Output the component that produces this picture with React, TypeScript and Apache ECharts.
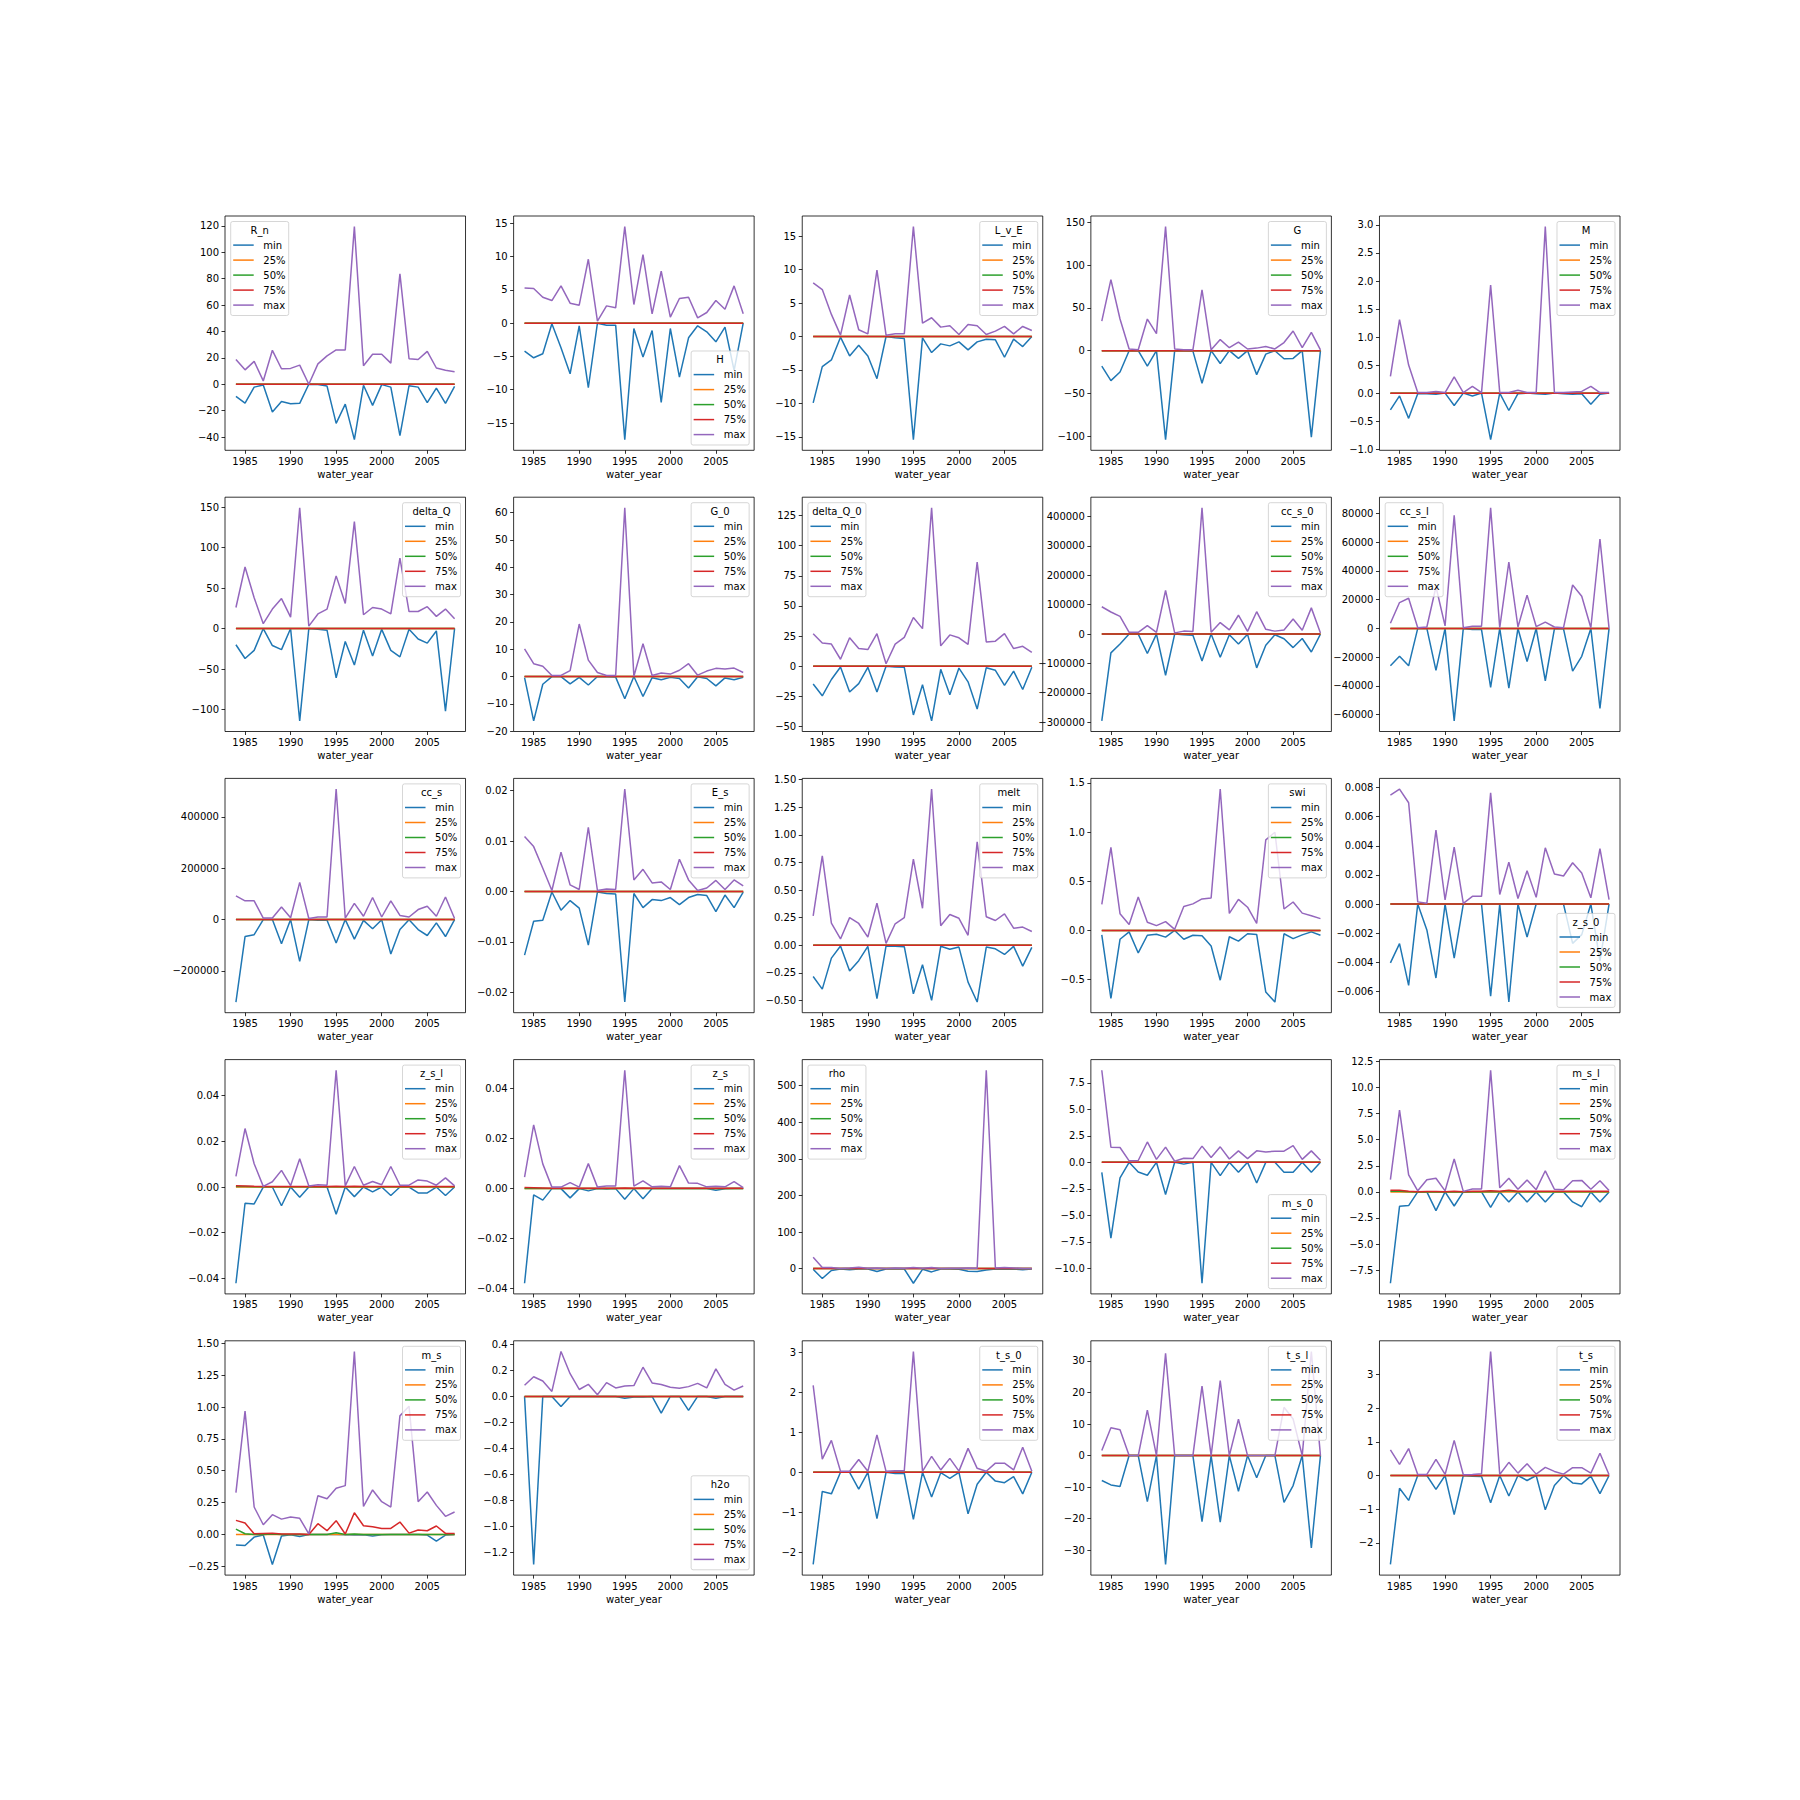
import React, { useEffect, useRef } from "react";
import * as echarts from "echarts";

const YEARS = [1984, 1985, 1986, 1987, 1988, 1989, 1990, 1991, 1992, 1993, 1994, 1995, 1996, 1997, 1998, 1999, 2000, 2001, 2002, 2003, 2004, 2005, 2006, 2007, 2008];
const X_TICKS = [1985, 1990, 1995, 2000, 2005];
const SERIES_NAMES = ["min", "25%", "50%", "75%", "max"];
const COLORS = ["#1f77b4", "#ff7f0e", "#2ca02c", "#d62728", "#9467bd"];
const ZERO = [0, 0, 0, 0, 0, 0, 0, 0, 0, 0, 0, 0, 0, 0, 0, 0, 0, 0, 0, 0, 0, 0, 0, 0, 0];

// ---- values per variable ----
const RN_MAX = [18.7, 10.9, 17.3, 2.5, 25.7, 11.7, 12, 14.5, 0, 15.4, 21.5, 26, 26, 119.4, 14, 22.7, 22.7, 16, 83.6, 19.3, 18.7, 24.9, 12.3, 10.6, 9.5];
const RN_MIN = [-9.2, -14.3, -2.2, -0.6, -21, -13.1, -14.8, -14.5, 0, -0.3, -1.4, -29.7, -15.1, -42, -0.8, -16, -0.3, -2.2, -38.9, -1.1, -2.2, -14, -3, -14.5, -1.7];
const RN_TICKS = ["\u221240", "\u221220", "0", "20", "40", "60", "80", "100", "120"];

const H_MAX = [5.3, 5.2, 3.9, 3.4, 5.6, 3.0, 2.7, 9.6, 0.3, 2.6, 2.3, 14.5, 2.8, 10.3, 1.4, 7.8, 0.9, 3.7, 3.9, 0.8, 1.6, 3.4, 2.1, 5.6, 1.4];
const H_MIN = [-4.2, -5.2, -4.6, -0.1, -3.7, -7.6, -0.4, -9.7, 0, -0.3, -0.3, -17.5, -0.8, -5.1, -1.1, -11.9, -0.8, -8.1, -2.2, -0.4, -1.3, -2.8, -0.6, -7.1, 0];
const H_TICKS = ["\u221215", "\u221210", "\u22125", "0", "5", "10", "15"];

const LVE_MAX = [8.0, 7.0, 3.3, 0.2, 6.2, 1.0, 0.4, 9.9, 0.2, 0.4, 0.4, 16.4, 2.0, 2.8, 1.4, 1.6, 0.3, 1.8, 1.6, 0.3, 0.8, 1.5, 0.4, 1.5, 0.9];
const LVE_MIN = [-9.9, -4.5, -3.5, -0.1, -2.9, -1.3, -2.9, -6.3, 0, -0.2, -0.3, -15.4, -0.2, -2.4, -1.1, -1.4, -0.8, -2.0, -0.8, -0.4, -0.5, -3.1, -0.4, -1.5, 0];
const LVE_TICKS = ["\u221215", "\u221210", "\u22125", "0", "5", "10", "15"];

const G_MAX = [34.5, 83, 37, 2, 1, 37, 20, 145, 2, 1, 1, 71, 1, 13, 3.5, 10, 2, 3, 5, 2, 9.5, 23, 3.5, 21.5, 1];
const G_MIN = [-18, -35, -25, 0, 0, -18, 0, -104, 0, 0, -0.5, -38, 0, -15, 0, -9, 0, -28, -4, 0, -9.5, -9, 0, -101, 0];
const G_TICKS = ["\u2212100", "\u221250", "0", "50", "100", "150"];

const M_MAX = [0.3, 1.31, 0.5, 0.01, 0.01, 0.03, 0.01, 0.29, 0.01, 0.12, 0.01, 1.93, 0.01, 0.01, 0.05, 0.01, 0.01, 2.97, 0.01, 0.01, 0.02, 0.03, 0.12, 0.01, 0.01];
const M_MIN = [-0.3, -0.05, -0.45, -0.01, -0.01, -0.02, 0, -0.22, 0, -0.05, 0, -0.83, 0, -0.31, -0.01, 0, -0.01, -0.02, 0, -0.01, -0.02, -0.01, -0.2, -0.02, 0];
const M_TICKS = ["\u22121.0", "\u22120.5", "0.0", "0.5", "1.0", "1.5", "2.0", "2.5", "3.0"];

const DQ_MAX = [26, 76, 38, 6, 24, 37, 14, 149, 3, 18, 24, 65, 31, 132, 17, 26, 24, 18, 87, 21, 21, 27, 15, 24, 12];
const DQ_MIN = [-20, -37, -27, 0, -21, -26, 0, -114, 0, -1, -2, -61, -16, -45, -2, -34, -1, -27, -35, -1, -13, -18, -3, -102, 0];
const DQ_TICKS = ["\u2212100", "\u221250", "0", "50", "100", "150"];

const G0_MAX = [10.1, 4.7, 3.8, 0.4, 0.4, 2.2, 19.2, 6, 1.5, 0.4, 0.4, 61.7, 0.1, 12, 0.4, 1.3, 0.9, 2.3, 4.7, 0.5, 2.0, 3.0, 2.8, 3.1, 1.5];
const G0_MIN = [-0.4, -16.2, -2.8, 0, 0, -2.7, -0.3, -3.1, 0, -0.1, -0.2, -8.1, 0, -7.3, -0.4, -1.2, -0.3, -0.7, -4.2, -0.1, -0.7, -3.4, -0.5, -1.2, -0.3];
const G0_TICKS = ["\u221220", "\u221210", "0", "10", "20", "30", "40", "50", "60"];

const DQ0_MAX = [27, 19.3, 18.4, 5.8, 23.6, 14.7, 13.8, 27, 2.1, 18.4, 23.9, 40.4, 31.2, 131.4, 16.9, 26, 23.6, 18.1, 86.4, 20.2, 20.8, 27, 14.7, 16.5, 11.6];
const DQ0_MIN = [-14.7, -24.5, -11, -0.6, -21.4, -14.4, -0.9, -21.4, 0, -0.6, -0.9, -40.4, -15.3, -45.3, -2.5, -23.6, -1.5, -12.9, -35.5, -1.2, -3.4, -15.9, -4, -19.3, -0.9];
const DQ0_TICKS = ["\u221250", "\u221225", "0", "25", "50", "75", "100", "125"];

const CCS0_MAX = [92800, 75000, 60000, 6000, 6000, 29000, 6000, 148000, 4000, 10000, 9000, 429000, 6000, 39000, 14000, 64000, 9000, 76000, 16000, 10000, 14000, 51000, 13000, 89000, 4000];
const CCS0_MIN = [-295000, -64000, -34000, 0, 0, -66000, 0, -140000, 0, -2500, -4000, -91500, 0, -79000, -2500, -34000, -1000, -115000, -38000, -2500, -16000, -46000, -15000, -61000, 0];
const CCS0_TICKS = ["\u2212300000", "\u2212200000", "\u2212100000", "0", "100000", "200000", "300000", "400000"];

const CCSL_MAX = [3600, 18000, 21000, 500, 1000, 29000, 1800, 78700, 500, 1500, 1500, 83900, 500, 46200, 1000, 23200, 1300, 4400, 1000, 500, 30200, 22400, 500, 62200, 0];
const CCSL_MIN = [-26000, -19400, -26000, 0, 0, -29200, 0, -64300, 0, -800, -800, -41000, 0, -41500, 0, -23000, 0, -36400, -300, -300, -29700, -19400, 0, -55700, 0];
const CCSL_TICKS = ["\u221260000", "\u221240000", "\u221220000", "0", "20000", "40000", "60000", "80000"];

const CCS_MAX = [92000, 73000, 73000, 6000, 6000, 49000, 7000, 145000, 4000, 10000, 10000, 508000, 6000, 63000, 13000, 86000, 10000, 73000, 16000, 10000, 39000, 52000, 13000, 88000, 4000];
const CCS_MIN = [-321000, -66000, -59000, 0, 0, -94000, 0, -163000, 0, -3000, -3000, -91000, 0, -76000, -3000, -36000, -1000, -134000, -39000, -1000, -39000, -62000, -13000, -66000, 0];
const CCS_TICKS = ["\u2212200000", "0", "200000", "400000"];

const ES_MAX = [0.0109, 0.0089, 0.0046, 0.0002, 0.0078, 0.0013, 0.0004, 0.0127, 0.0002, 0.0005, 0.0004, 0.0203, 0.0023, 0.0044, 0.0017, 0.0019, 0.0004, 0.0064, 0.0023, 0.0002, 0.0007, 0.0022, 0.0004, 0.0023, 0.0011];
const ES_MIN = [-0.0126, -0.0059, -0.0057, -0.0001, -0.0037, -0.0018, -0.0033, -0.0106, -0.0001, -0.0004, -0.0005, -0.0219, -0.0004, -0.0032, -0.0016, -0.0018, -0.0012, -0.0026, -0.0012, -0.0006, -0.0008, -0.004, -0.0007, -0.0032, -0.0001];
const ES_TICKS = ["\u22120.02", "\u22120.01", "0.00", "0.01", "0.02"];

const MELT_MAX = [0.265, 0.81, 0.2, 0.057, 0.25, 0.197, 0.074, 0.38, 0.017, 0.194, 0.25, 0.78, 0.335, 1.415, 0.177, 0.278, 0.244, 0.09, 0.937, 0.258, 0.224, 0.284, 0.154, 0.164, 0.124];
const MELT_MIN = [-0.284, -0.398, -0.117, -0.007, -0.234, -0.14, -0.01, -0.485, -0.007, -0.01, -0.013, -0.44, -0.177, -0.5, -0.01, -0.037, -0.017, -0.335, -0.515, -0.017, -0.033, -0.084, -0.01, -0.19, -0.02];
const MELT_TICKS = ["\u22120.50", "\u22120.25", "0.00", "0.25", "0.50", "0.75", "1.00", "1.25", "1.50"];

const SWI_MAX = [0.266, 0.844, 0.17, 0.06, 0.34, 0.083, 0.049, 0.09, 0.011, 0.244, 0.27, 0.32, 0.33, 1.437, 0.173, 0.315, 0.236, 0.071, 0.92, 0.998, 0.218, 0.289, 0.176, 0.15, 0.12];
const SWI_MIN = [-0.045, -0.69, -0.09, -0.015, -0.229, -0.049, -0.038, -0.068, 0, -0.09, -0.049, -0.053, -0.158, -0.506, -0.064, -0.109, -0.034, -0.041, -0.626, -0.728, -0.034, -0.083, -0.045, -0.015, -0.049];
const SWI_TICKS = ["\u22120.5", "0.0", "0.5", "1.0", "1.5"];

const ZS0_MAX = [0.00749, 0.0079, 0.00696, 0.00015, 0.00005, 0.00508, 0.00028, 0.00391, 0.00005, 0.00053, 0.00053, 0.00764, 0.00066, 0.00287, 0.00038, 0.00229, 0.00046, 0.00386, 0.00206, 0.00193, 0.00284, 0.00213, 0.00043, 0.00381, 0.0003];
const ZS0_MIN = [-0.00404, -0.00272, -0.00559, 0, -0.00178, -0.00508, 0, -0.00371, 0, 0, 0, -0.00632, 0, -0.00673, 0, -0.00226, 0, 0, 0, 0, -0.0027, -0.0021, 0, -0.0039, 0];
const ZS0_TICKS = ["\u22120.006", "\u22120.004", "\u22120.002", "0.000", "0.002", "0.004", "0.006", "0.008"];

const ZSL_MAX = [0.0047, 0.0256, 0.0102, 0.0003, 0.0023, 0.0073, 0.0006, 0.0124, 0.0005, 0.001, 0.0008, 0.0511, 0.0005, 0.009, 0.0008, 0.0024, 0.001, 0.009, 0.0008, 0.0008, 0.0031, 0.0026, 0.0008, 0.004, 0.0005];
const ZSL_Q75 = [0.0006, 0.0005, 0.0003, 0.0002, 0.0002, 0.0002, 0.0002, 0.0002, 0.0002, 0.0002, 0.0002, 0.0003, 0.0002, 0.0003, 0.0002, 0.0002, 0.0002, 0.0002, 0.0002, 0.0002, 0.0002, 0.0002, 0.0002, 0.0002, 0.0002];
const ZSL_Q50 = [0.0002, 0.0002, 0.0001, 0.0001, 0.0001, 0.0001, 0.0001, 0.0001, 0.0001, 0.0001, 0.0001, 0.0001, 0.0001, 0.0001, 0.0001, 0.0001, 0.0001, 0.0001, 0.0001, 0.0001, 0.0001, 0.0001, 0.0001, 0.0001, 0.0001];
const ZSL_MIN = [-0.0421, -0.0071, -0.0074, 0, 0, -0.0082, 0, -0.0045, 0, 0, 0, -0.0119, 0, -0.0042, 0, -0.0021, 0, -0.0037, 0, 0, -0.0026, -0.0026, 0, -0.0037, 0];
const ZSL_TICKS = ["\u22120.04", "\u22120.02", "0.00", "0.02", "0.04"];

const ZS_MAX = [0.0046, 0.0255, 0.0099, 0.0006, 0.0006, 0.0024, 0.0006, 0.01, 0.0006, 0.001, 0.001, 0.0474, 0.001, 0.0031, 0.0007, 0.0009, 0.0007, 0.0092, 0.0022, 0.0021, 0.0007, 0.0009, 0.0007, 0.0028, 0.0004];
const ZS_Q75 = [0.0004, 0.0003, 0.0002, 0.0001, 0.0001, 0.0001, 0.0001, 0.0001, 0.0001, 0.0001, 0.0001, 0.0002, 0.0001, 0.0002, 0.0001, 0.0001, 0.0001, 0.0001, 0.0001, 0.0001, 0.0001, 0.0001, 0.0001, 0.0001, 0.0001];
const ZS_MIN = [-0.0379, -0.0025, -0.0046, 0, 0, -0.0037, 0, -0.0009, 0, -0.0002, 0, -0.0043, 0, -0.0041, 0, 0, 0, 0, 0, 0, 0, -0.0007, -0.0001, 0, 0];
const ZS_TICKS = ["\u22120.04", "\u22120.02", "0.00", "0.02", "0.04"];

const RHO_MAX = [31, 3, 3, 0.5, 2, 4, 1, 2, 0.5, 2, 1, 3, 1, 3, 0.5, 1, 1, 2, 1, 542, 2, 3, 2, 0.5, 0.5];
const RHO_MIN = [-2, -27, -5, -1, -3, -1, -1, -8, -1, -1, -1, -40, -2, -9, -1, -1, -2, -7, -8, -4, -1, -2, -1, -3, -1];
const RHO_TICKS = ["0", "100", "200", "300", "400", "500"];

const MS0_MAX = [8.68, 1.43, 1.4, 0.14, 0.17, 1.92, 0.28, 1.43, 0.1, 0.38, 0.35, 1.53, 0.45, 1.46, 0.31, 1.08, 0.35, 1.08, 0.98, 1.05, 1.05, 1.57, 0.28, 1.08, 0.2];
const MS0_MIN = [-0.94, -7.15, -1.46, 0, -0.91, -1.22, 0, -3.03, 0, -0.17, 0, -11.4, 0, -1.26, 0, -0.94, 0, -1.95, 0, 0, -0.94, -0.94, 0, -0.94, 0];
const MS0_TICKS = ["\u221210.0", "\u22127.5", "\u22125.0", "\u22122.5", "0.0", "2.5", "5.0", "7.5"];

const MSL_MAX = [1.17, 7.83, 1.63, 0.1, 1.17, 1.31, 0.1, 3.15, 0.05, 0.28, 0.28, 11.65, 0.39, 1.31, 0.25, 1.13, 0.21, 2.02, 0.25, 0.21, 1.06, 1.1, 0.25, 1.06, 0.14];
const MSL_Q75 = [0.15, 0.15, 0.05, 0.02, 0.03, 0.03, 0.02, 0.05, 0.02, 0.05, 0.05, 0.12, 0.05, 0.15, 0.05, 0.05, 0.05, 0.05, 0.05, 0.05, 0.05, 0.05, 0.05, 0.05, 0.05];
const MSL_Q50 = [0.05, 0.05, 0.01, 0, 0, 0, 0, 0.01, 0, 0.01, 0.01, 0.03, 0.01, 0.1, 0.01, 0.01, 0.01, 0.01, 0.01, 0.01, 0.01, 0.01, 0.01, 0.01, 0.01];
const MSL_MIN = [-8.75, -1.38, -1.31, 0, 0, -1.8, 0, -1.35, 0, 0, 0, -1.49, 0, -0.96, 0, -0.96, 0, -0.96, 0, 0, -0.96, -1.42, 0, -0.96, 0];
const MSL_TICKS = ["\u22127.5", "\u22125.0", "\u22122.5", "0.0", "2.5", "5.0", "7.5", "10.0", "12.5"];

const MS_MAX = [0.328, 0.968, 0.215, 0.076, 0.155, 0.12, 0.136, 0.126, 0.005, 0.304, 0.28, 0.362, 0.383, 1.437, 0.22, 0.349, 0.257, 0.215, 0.931, 1.007, 0.257, 0.333, 0.228, 0.142, 0.176];
const MS_Q75 = [0.11, 0.089, 0.005, 0.008, 0.01, 0.003, 0.003, 0.003, 0, 0.084, 0.029, 0.108, 0.003, 0.17, 0.068, 0.06, 0.047, 0.047, 0.097, 0.01, 0.034, 0.029, 0.066, 0.008, 0.008];
const MS_Q50 = [0.042, 0.005, 0, 0, 0.003, 0, 0, 0, 0, 0, 0, 0.013, 0, 0.003, 0, 0, 0, 0, 0, 0, 0, 0, 0, 0, 0];
const MS_MIN = [-0.084, -0.087, -0.021, -0.005, -0.236, -0.013, -0.003, -0.016, 0, 0, 0, 0, -0.003, -0.005, -0.003, -0.013, -0.003, 0, 0, 0, 0, -0.005, -0.052, -0.005, 0];
const MS_TICKS = ["\u22120.25", "0.00", "0.25", "0.50", "0.75", "1.00", "1.25", "1.50"];

const H2O_MAX = [0.086, 0.151, 0.118, 0.038, 0.345, 0.174, 0.053, 0.093, 0.013, 0.106, 0.065, 0.08, 0.083, 0.224, 0.103, 0.091, 0.07, 0.063, 0.075, 0.1, 0.065, 0.211, 0.093, 0.048, 0.08];
const H2O_MIN = [0, -1.29, 0, 0, -0.078, 0, 0, 0, 0, 0, 0, -0.015, -0.005, -0.005, 0, -0.128, 0, 0, -0.108, 0, 0, -0.015, 0, 0, 0];
const H2O_TICKS = ["\u22121.2", "\u22121.0", "\u22120.8", "\u22120.6", "\u22120.4", "\u22120.2", "0.0", "0.2", "0.4"];

const TS0_MAX = [2.18, 0.33, 0.8, 0.025, 0.025, 0.32, 0.025, 0.94, 0.025, 0.04, 0.04, 3.03, 0.025, 0.4, 0.06, 0.35, 0.03, 0.6, 0.1, 0.025, 0.23, 0.23, 0.06, 0.63, 0.025];
const TS0_MIN = [-2.31, -0.48, -0.54, 0, 0, -0.42, 0, -1.16, 0, -0.03, -0.03, -1.18, 0, -0.62, -0.01, -0.15, 0, -1.04, -0.3, 0, -0.22, -0.26, -0.11, -0.54, 0];
const TS0_TICKS = ["\u22122", "\u22121", "0", "1", "2", "3"];

const TSL_MAX = [1.6, 8.8, 8.2, 0, 0, 14.4, 0, 32.4, 0, 0, 0, 22, 0, 23.8, 0, 11.5, 0, 0, 0, 0, 15.3, 11.6, 0, 33, 0];
const TSL_MIN = [-7.9, -9.3, -9.8, 0, 0, -14.6, 0, -34.5, 0, 0, 0, -20.9, 0, -21.1, 0, -11.3, 0, -7, 0, 0, -14.8, -9.5, 0, -29.3, 0];
const TSL_TICKS = ["\u221230", "\u221220", "\u221210", "0", "10", "20", "30"];

const TS_MAX = [0.76, 0.33, 0.8, 0.03, 0.03, 0.48, 0.03, 1.04, 0.02, 0.03, 0.05, 3.68, 0.03, 0.39, 0.07, 0.35, 0.04, 0.24, 0.12, 0.04, 0.23, 0.23, 0.07, 0.66, 0.02];
const TS_MIN = [-2.64, -0.38, -0.74, 0, 0, -0.41, 0, -1.16, 0, -0.02, -0.03, -0.81, 0, -0.61, 0, -0.15, 0, -1.02, -0.3, 0, -0.22, -0.25, -0.02, -0.54, 0];
const TS_TICKS = ["\u22122", "\u22121", "0", "1", "2", "3"];

type Panel = { name: string; lines: number[][]; ticks: string[]; legend: "ul" | "ur" | "lr" };

const PANELS: Panel[] = [
  { name: "R_n", lines: [RN_MIN, ZERO, ZERO, ZERO, RN_MAX], ticks: RN_TICKS, legend: "ul" },
  { name: "H", lines: [H_MIN, ZERO, ZERO, ZERO, H_MAX], ticks: H_TICKS, legend: "lr" },
  { name: "L_v_E", lines: [LVE_MIN, ZERO, ZERO, ZERO, LVE_MAX], ticks: LVE_TICKS, legend: "ur" },
  { name: "G", lines: [G_MIN, ZERO, ZERO, ZERO, G_MAX], ticks: G_TICKS, legend: "ur" },
  { name: "M", lines: [M_MIN, ZERO, ZERO, ZERO, M_MAX], ticks: M_TICKS, legend: "ur" },
  { name: "delta_Q", lines: [DQ_MIN, ZERO, ZERO, ZERO, DQ_MAX], ticks: DQ_TICKS, legend: "ur" },
  { name: "G_0", lines: [G0_MIN, ZERO, ZERO, ZERO, G0_MAX], ticks: G0_TICKS, legend: "ur" },
  { name: "delta_Q_0", lines: [DQ0_MIN, ZERO, ZERO, ZERO, DQ0_MAX], ticks: DQ0_TICKS, legend: "ul" },
  { name: "cc_s_0", lines: [CCS0_MIN, ZERO, ZERO, ZERO, CCS0_MAX], ticks: CCS0_TICKS, legend: "ur" },
  { name: "cc_s_l", lines: [CCSL_MIN, ZERO, ZERO, ZERO, CCSL_MAX], ticks: CCSL_TICKS, legend: "ul" },
  { name: "cc_s", lines: [CCS_MIN, ZERO, ZERO, ZERO, CCS_MAX], ticks: CCS_TICKS, legend: "ur" },
  { name: "E_s", lines: [ES_MIN, ZERO, ZERO, ZERO, ES_MAX], ticks: ES_TICKS, legend: "ur" },
  { name: "melt", lines: [MELT_MIN, ZERO, ZERO, ZERO, MELT_MAX], ticks: MELT_TICKS, legend: "ur" },
  { name: "swi", lines: [SWI_MIN, ZERO, ZERO, ZERO, SWI_MAX], ticks: SWI_TICKS, legend: "ur" },
  { name: "z_s_0", lines: [ZS0_MIN, ZERO, ZERO, ZERO, ZS0_MAX], ticks: ZS0_TICKS, legend: "lr" },
  { name: "z_s_l", lines: [ZSL_MIN, ZERO, ZSL_Q50, ZSL_Q75, ZSL_MAX], ticks: ZSL_TICKS, legend: "ur" },
  { name: "z_s", lines: [ZS_MIN, ZERO, ZERO, ZS_Q75, ZS_MAX], ticks: ZS_TICKS, legend: "ur" },
  { name: "rho", lines: [RHO_MIN, ZERO, ZERO, ZERO, RHO_MAX], ticks: RHO_TICKS, legend: "ul" },
  { name: "m_s_0", lines: [MS0_MIN, ZERO, ZERO, ZERO, MS0_MAX], ticks: MS0_TICKS, legend: "lr" },
  { name: "m_s_l", lines: [MSL_MIN, ZERO, MSL_Q50, MSL_Q75, MSL_MAX], ticks: MSL_TICKS, legend: "ur" },
  { name: "m_s", lines: [MS_MIN, ZERO, MS_Q50, MS_Q75, MS_MAX], ticks: MS_TICKS, legend: "ur" },
  { name: "h2o", lines: [H2O_MIN, ZERO, ZERO, ZERO, H2O_MAX], ticks: H2O_TICKS, legend: "lr" },
  { name: "t_s_0", lines: [TS0_MIN, ZERO, ZERO, ZERO, TS0_MAX], ticks: TS0_TICKS, legend: "ur" },
  { name: "t_s_l", lines: [TSL_MIN, ZERO, ZERO, ZERO, TSL_MAX], ticks: TSL_TICKS, legend: "ur" },
  { name: "t_s", lines: [TS_MIN, ZERO, ZERO, ZERO, TS_MAX], ticks: TS_TICKS, legend: "ur" },
];

// ---- layout ----
const AX_LEFT0 = 225;
const AX_TOP0 = 216;
const AX_W = 240.52;
const AX_H = 234.3;
const COL_PITCH = 288.62;
const ROW_PITCH = 281.2;
const FONT = "DejaVu Sans";
const LEG_W = 58;
const LEG_H = 94;

const parseTick = (s: string) => Number(s.replace("\u2212", "-"));

function buildOption() {
  const grids: any[] = [];
  const xAxes: any[] = [];
  const yAxes: any[] = [];
  const series: any[] = [];
  const graphics: any[] = [];
  const xmin = YEARS[0] - 0.05 * (YEARS[YEARS.length - 1] - YEARS[0]);
  const xmax = YEARS[YEARS.length - 1] + 0.05 * (YEARS[YEARS.length - 1] - YEARS[0]);

  PANELS.forEach((p, k) => {
    const col = k % 5;
    const row = Math.floor(k / 5);
    const left = AX_LEFT0 + col * COL_PITCH;
    const top = AX_TOP0 + row * ROW_PITCH;
    grids.push({
      left, top, width: AX_W, height: AX_H,
      show: true, borderColor: "#000", borderWidth: 0.8, backgroundColor: "transparent",
    });
    let lo = Infinity, hi = -Infinity;
    p.lines.forEach((arr) => arr.forEach((v) => { lo = Math.min(lo, v); hi = Math.max(hi, v); }));
    const pad = 0.05 * (hi - lo);
    const tickVals = p.ticks.map(parseTick);
    xAxes.push({
      type: "value", gridIndex: k, min: xmin, max: xmax, position: "bottom",
      splitLine: { show: false }, axisLine: { show: false, onZero: false },
      axisTick: { show: true, customValues: X_TICKS, length: 3.5, inside: false, lineStyle: { color: "#000", width: 0.8 } },
      axisLabel: { customValues: X_TICKS, formatter: (v: number) => String(Math.round(v)), margin: 6, fontSize: 10, fontFamily: FONT, color: "#000" },
      name: "water_year", nameLocation: "middle", nameGap: 19,
      nameTextStyle: { fontSize: 10, fontFamily: FONT, color: "#000" },
    });
    yAxes.push({
      type: "value", gridIndex: k, min: lo - pad, max: hi + pad, scale: true, position: "left",
      splitLine: { show: false }, axisLine: { show: false, onZero: false },
      axisTick: { show: true, customValues: tickVals, length: 3.5, inside: false, lineStyle: { color: "#000", width: 0.8 } },
      axisLabel: {
        customValues: tickVals,
        formatter: (v: number) => {
          let best = 0, bd = Infinity;
          tickVals.forEach((t, i) => { const d = Math.abs(t - v); if (d < bd) { bd = d; best = i; } });
          return p.ticks[best];
        },
        margin: 6, fontSize: 10, fontFamily: FONT, color: "#000",
      },
    });
    p.lines.forEach((arr, si) => {
      series.push({
        type: "line", name: SERIES_NAMES[si], xAxisIndex: k, yAxisIndex: k,
        data: YEARS.map((y, i) => [y, arr[i]]),
        showSymbol: false, symbol: "none",
        lineStyle: { color: COLORS[si], width: 1.5 },
        itemStyle: { color: COLORS[si] },
        z: 2 + si,
      });
    });
    // legend
    let lx = left + 5.7;
    let ly = top + 5.5;
    if (p.legend === "ur" || p.legend === "lr") lx = left + AX_W - 5 - LEG_W;
    if (p.legend === "lr") ly = top + AX_H - 5.3 - LEG_H;
    const children: any[] = [
      {
        type: "rect", z: 100,
        shape: { x: lx, y: ly, width: LEG_W, height: LEG_H, r: 2 },
        style: { fill: "rgba(255,255,255,0.8)", stroke: "rgba(204,204,204,0.8)", lineWidth: 1 },
      },
      {
        type: "text", z: 101,
        style: { text: p.name, x: lx + LEG_W / 2, y: ly + 8.8, fill: "#000", fontSize: 10, fontFamily: FONT, align: "center", verticalAlign: "middle" },
      },
    ];
    SERIES_NAMES.forEach((nm, si) => {
      const cy = ly + 23.6 + si * 15;
      children.push({
        type: "line", z: 101,
        shape: { x1: lx + 2.5, y1: cy, x2: lx + 23, y2: cy },
        style: { stroke: COLORS[si], lineWidth: 1.5 },
      });
      children.push({
        type: "text", z: 101,
        style: { text: nm, x: lx + 32.6, y: cy, fill: "#000", fontSize: 10, fontFamily: FONT, align: "left", verticalAlign: "middle" },
      });
    });
    graphics.push({ type: "group", z: 100, children });
  });

  return {
    animation: false,
    backgroundColor: "#fff",
    grid: grids,
    xAxis: xAxes,
    yAxis: yAxes,
    series,
    graphic: graphics,
  };
}

export default function App() {
  const ref = useRef<HTMLDivElement>(null);
  useEffect(() => {
    if (!ref.current) return;
    const chart = echarts.init(ref.current, undefined, { renderer: "svg" });
    chart.setOption(buildOption() as any);
    return () => chart.dispose();
  }, []);
  return <div ref={ref} style={{ position: "absolute", left: 0, top: 0, width: 1800, height: 1800 }} />;
}
